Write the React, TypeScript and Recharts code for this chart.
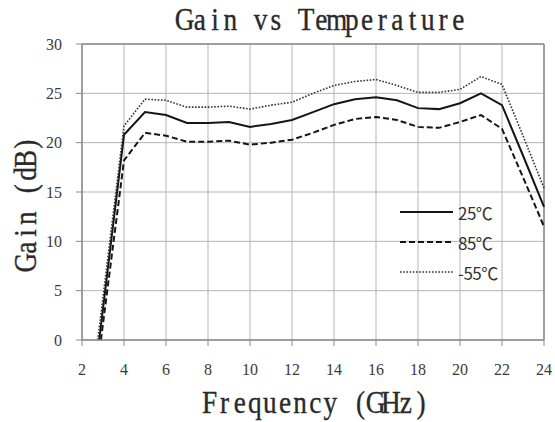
import React from 'react';
import { LineChart, Line, XAxis, YAxis, CartesianGrid, Legend, ReferenceLine } from 'recharts';

// Frequency points (GHz) shared by all series after the steep rise
const freqs = [4, 5, 6, 7, 8, 9, 10, 11, 12, 13, 14, 15, 16, 17, 18, 19, 20, 21, 22, 23, 24];

// Gain (dB) per temperature
const gain25 = [20.8, 23.1, 22.8, 22.0, 22.0, 22.1, 21.6, 21.9, 22.3, 23.1, 23.9, 24.4, 24.6, 24.3, 23.5, 23.4, 24.0, 25.0, 23.8, 18.7, 13.5];
const gain85 = [18.2, 21.0, 20.7, 20.1, 20.1, 20.2, 19.8, 20.0, 20.3, 21.0, 21.8, 22.4, 22.6, 22.3, 21.6, 21.5, 22.1, 22.8, 21.4, 16.5, 11.5];
const gainM55 = [21.7, 24.4, 24.3, 23.6, 23.6, 23.7, 23.4, 23.8, 24.1, 25.0, 25.8, 26.2, 26.4, 25.8, 25.1, 25.1, 25.4, 26.7, 25.9, 20.7, 15.4];

// Frequency where each curve leaves 0 dB
const start25 = 2.82;
const start85 = 2.9;
const startM55 = 2.75;

const seriesNames = ['25℃', '85℃', '-55℃'];
const xTicks = [2, 4, 6, 8, 10, 12, 14, 16, 18, 20, 22, 24];
const yTicks = [0, 5, 10, 15, 20, 25, 30];

const build = (start: number, vals: number[]) => [
  { f: start, g: 0 },
  ...freqs.map((f, i) => ({ f, g: vals[i] })),
];

const data25 = build(start25, gain25);
const data85 = build(start85, gain85);
const dataM55 = build(startM55, gainM55);
// Chart-level rows at the labelled frequencies (used for the category grid)
const frameRows = xTicks.map((f) => ({ f }));

const SERIF = '"Liberation Serif", "DejaVu Serif", serif';
const LEGEND_FONT = '"Noto Sans CJK SC", "Noto Sans", sans-serif';

const Y_TICK_SIZE = 6;
const Y_TICK_MARGIN = 14;

const renderLegend = (props: any) => {
  const payload = (props.payload || [])
    .filter((e: any) => seriesNames.includes(e.value))
    .sort((a: any, b: any) => seriesNames.indexOf(a.value) - seriesNames.indexOf(b.value));
  return (
    <svg width={140} height={90} style={{ display: 'block' }}>
      {payload.map((entry: any, i: number) => {
        const p = entry.payload || {};
        const y = 14 + i * 30;
        return (
          <g key={i}>
            <line
              x1={2}
              x2={55}
              y1={y}
              y2={y}
              stroke={p.stroke || '#111'}
              strokeWidth={p.strokeWidth || 2}
              strokeDasharray={p.strokeDasharray}
            />
            <text
              x={60}
              y={y}
              dominantBaseline="central"
              fontFamily={LEGEND_FONT}
              fontSize={17}
              fill="#333"
              letterSpacing={-0.5}
            >
              {entry.value}
            </text>
          </g>
        );
      })}
    </svg>
  );
};

const XTick = (props: any) => {
  const { x, y, payload } = props;
  return (
    <g>
      <line x1={x} x2={x} y1={y - 24} y2={y - 18} stroke="#8a8a8a" strokeWidth={1} />
      <text x={x} y={y} dy="0.71em" textAnchor="middle" fontFamily={SERIF} fontSize={16} fill="#3a3a3a">
        {payload.value}
      </text>
    </g>
  );
};

const YTick = (props: any) => {
  const { x, y, payload } = props;
  const axisX = Number(x) + Y_TICK_SIZE + Y_TICK_MARGIN;
  return (
    <g>
      <line x1={axisX - Y_TICK_SIZE} x2={axisX} y1={y} y2={y} stroke="#8a8a8a" strokeWidth={1} />
      <text x={x} y={y} dy="0.35em" textAnchor="end" fontFamily={SERIF} fontSize={16} fill="#3a3a3a">
        {payload.value}
      </text>
    </g>
  );
};

// Serif monospaced-looking label: each glyph centred in an equal cell
const MonoLabel = (props: { text: string; x: number; y: number; cell: number; rotate?: boolean }) => {
  const { text, x, y, cell, rotate } = props;
  const sx = 0.88;
  const xs = text.split('').map((_, i) => ((i + 0.5) * cell) / sx).join(' ');
  const t = rotate
    ? `translate(${x},${y}) rotate(-90) scale(${sx},1)`
    : `translate(${x},${y}) scale(${sx},1)`;
  return (
    <text
      transform={t}
      x={xs}
      y={0}
      textAnchor="middle"
      fontFamily={SERIF}
      fontSize={31}
      fill="#2a2a2a"
      stroke="#2a2a2a"
      strokeWidth={0.35}
      style={{ whiteSpace: 'pre' }}
    >
      {text}
    </text>
  );
};

export default function App() {
  return (
    <div style={{ position: 'absolute', left: 0, top: 0, width: 555, height: 422, background: '#fff' }}>
      <LineChart data={frameRows} width={555} height={422} margin={{ top: 44, right: 11, left: 22, bottom: 52 }}>
        <CartesianGrid stroke="#b5b5b5" strokeWidth={1} />
        <XAxis
          dataKey="f"
          type="number"
          domain={[2, 24]}
          ticks={xTicks}
          interval={0}
          height={30}
          axisLine={{ stroke: '#8a8a8a', strokeWidth: 1.5 }}
          tickLine={false}
          tickSize={6}
          tickMargin={18}
          tick={XTick}
        />
        <YAxis
          type="number"
          domain={[0, 30]}
          ticks={yTicks}
          interval={0}
          width={60}
          axisLine={{ stroke: '#8a8a8a', strokeWidth: 1.5 }}
          tickLine={false}
          tickSize={Y_TICK_SIZE}
          tickMargin={Y_TICK_MARGIN}
          tick={YTick}
        />
        <ReferenceLine y={30} stroke="#8a8a8a" strokeWidth={1.5} />
        <ReferenceLine x={24} stroke="#8a8a8a" strokeWidth={1.5} />
        <Line
          data={data25}
          dataKey="g"
          name="25℃"
          type="linear"
          stroke="#151515"
          strokeWidth={2}
          dot={false}
          isAnimationActive={false}
        />
        <Line
          data={data85}
          dataKey="g"
          name="85℃"
          type="linear"
          stroke="#151515"
          strokeWidth={2}
          strokeDasharray="6 3"
          dot={false}
          isAnimationActive={false}
        />
        <Line
          data={dataM55}
          dataKey="g"
          name="-55℃"
          type="linear"
          stroke="#333"
          strokeWidth={1.6}
          strokeDasharray="1.6 1.6"
          dot={false}
          isAnimationActive={false}
        />
        <Legend
          content={renderLegend}
          layout="vertical"
          align="center"
          verticalAlign="middle"
          wrapperStyle={{ position: 'absolute', left: 398, top: 198, width: 140, height: 90 }}
        />
      </LineChart>
      <svg width={555} height={422} style={{ position: 'absolute', left: 0, top: 0, pointerEvents: 'none' }}>
        <MonoLabel text="Gain vs Temperature" x={177} y={30} cell={15.2} />
        <MonoLabel text="Frequency (GHz)" x={202} y={413} cell={15.1} />
        <MonoLabel text="Gain (dB)" x={36} y={270} cell={14.8} rotate />
      </svg>
    </div>
  );
}
